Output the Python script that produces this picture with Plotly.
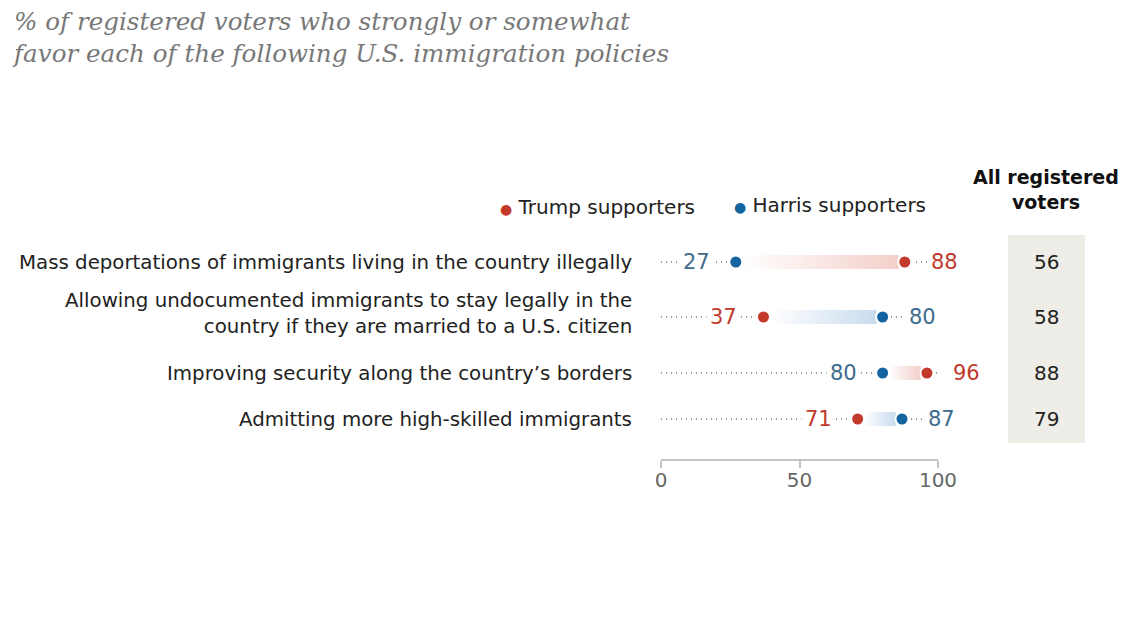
import plotly.graph_objects as go

# ---- data ----
policies = [
    "Mass deportations of immigrants living in the country illegally",
    "Allowing undocumented immigrants to stay legally in the<br>country if they are married to a U.S. citizen",
    "Improving security along the country’s borders",
    "Admitting more high-skilled immigrants",
]
trump = [88, 37, 96, 71]
harris = [27, 80, 80, 87]
all_voters = [56, 58, 88, 79]
tick_vals = [0, 50, 100]
tick_text = ["0", "50", "100"]

# ---- style ----
RED = "#c3392b"
BLUE = "#14649f"
RED_TXT = "#bf3a2b"
BLUE_TXT = "#3e6b8e"
RED_LIGHT = "#f3cfc9"
BLUE_LIGHT = "#c9dbee"
FONT = "DejaVu Sans"
row_y = [27, 82, 138, 184]  # layout positions of rows
label_shift = [0, 4, 0, 0]
half_h = 7
PW = 277.0  # plot width in px (for paper conversions)
PH = 224.0

def px_x(p):  # page x pixel -> paper x
    return (p - 661) / PW

fig = go.Figure()

# dotted guide lines
for y in row_y:
    fig.add_trace(go.Scatter(x=[0, 100], y=[y, y], mode="lines",
                             line=dict(color="#9a9a9a", width=2, dash="1px,4px"),
                             hoverinfo="skip", showlegend=False))

# gradient bars
for i, y in enumerate(row_y):
    lo, hi = sorted([trump[i], harris[i]])
    col = RED_LIGHT if trump[i] > harris[i] else BLUE_LIGHT
    a, b = lo + 2.2, hi - 2.2
    fig.add_trace(go.Scatter(
        x=[a, b, b, a, a], y=[y - half_h, y - half_h, y + half_h, y + half_h, y - half_h],
        mode="lines", line=dict(width=0), fill="toself",
        fillgradient=dict(type="horizontal", colorscale=[[0, "#ffffff"], [1, col]]),
        hoverinfo="skip", showlegend=False))

# dots
fig.add_trace(go.Scatter(x=trump, y=row_y, mode="markers",
                         marker=dict(color=RED, size=13, line=dict(color="white", width=2)),
                         showlegend=False, hoverinfo="skip"))
fig.add_trace(go.Scatter(x=harris, y=row_y, mode="markers",
                         marker=dict(color=BLUE, size=13, line=dict(color="white", width=2)),
                         showlegend=False, hoverinfo="skip"))

ann = []
for i, y in enumerate(row_y):
    t, h = trump[i], harris[i]
    for val, col in ((t, RED_TXT), (h, BLUE_TXT)):
        other = h if val == t else t
        is_hi = val >= other
        ann.append(dict(x=val, y=y, xref="x", yref="y", text=str(val), showarrow=False,
                        xanchor="left" if is_hi else "right",
                        xshift=22 if is_hi else -22,
                        font=dict(family=FONT, size=21, color=col),
                        bgcolor="white", borderpad=3))
    # policy labels
    ann.append(dict(x=px_x(634), y=y, xref="paper", yref="y", text=policies[i], showarrow=False,
                    xanchor="right", align="right", yshift=label_shift[i],
                    font=dict(family=FONT, size=19.8, color="#222")))
    # all voters
    ann.append(dict(x=px_x(1046), y=y, xref="paper", yref="y", text=str(all_voters[i]), showarrow=False,
                    xanchor="center", font=dict(family=FONT, size=20, color="#222")))

# header
ann.append(dict(x=px_x(1046), y=1, xref="paper", yref="paper", text="<b>All registered<br>voters</b>",
                showarrow=False, xanchor="center", yanchor="bottom", align="center",
                font=dict(family=FONT, size=19, color="#111"), yshift=20))

# legend
ann.append(dict(x=px_x(697), y=1, xref="paper", yref="paper",
                text=f"<span style='color:{RED};font-size:14px'>●</span> Trump supporters",
                showarrow=False, xanchor="right", yanchor="middle", yshift=28,
                font=dict(family=FONT, size=20, color="#222")))
ann.append(dict(x=px_x(928), y=1, xref="paper", yref="paper",
                text=f"<span style='color:{BLUE};font-size:14px'>●</span> Harris supporters",
                showarrow=False, xanchor="right", yanchor="middle", yshift=30,
                font=dict(family=FONT, size=20, color="#222")))

# title
ann.append(dict(x=px_x(10), y=1 + (235 - 5) / PH, xref="paper", yref="paper",
                text="% of registered voters who strongly or somewhat<br>favor each of the following U.S. immigration policies",
                showarrow=False, xanchor="left", yanchor="top", align="left",
                font=dict(family="DejaVu Serif", size=24.6, color="#787878", style="italic")))

shapes = [dict(type="rect", xref="paper", yref="y", x0=px_x(1008), x1=px_x(1085), y0=0, y1=208,
               fillcolor="#eeede7", line=dict(width=0), layer="below")]

fig.update_layout(
    width=1128, height=636,
    margin=dict(l=653, r=198, t=227, b=185),
    paper_bgcolor="white", plot_bgcolor="white",
    xaxis=dict(range=[0, 100], tickvals=tick_vals, ticktext=tick_text, showgrid=False, zeroline=False,
               showline=True, linecolor="#c4c4c4", linewidth=2, ticks="outside", ticklen=7,
               tickcolor="#c4c4c4", tickwidth=2, ticklabelstandoff=-5,
               tickfont=dict(family=FONT, size=20, color="#666")),
    yaxis=dict(range=[PH, 0], visible=False, fixedrange=True),
    annotations=ann, shapes=shapes, showlegend=False,
)

fig.write_html("out.html")
